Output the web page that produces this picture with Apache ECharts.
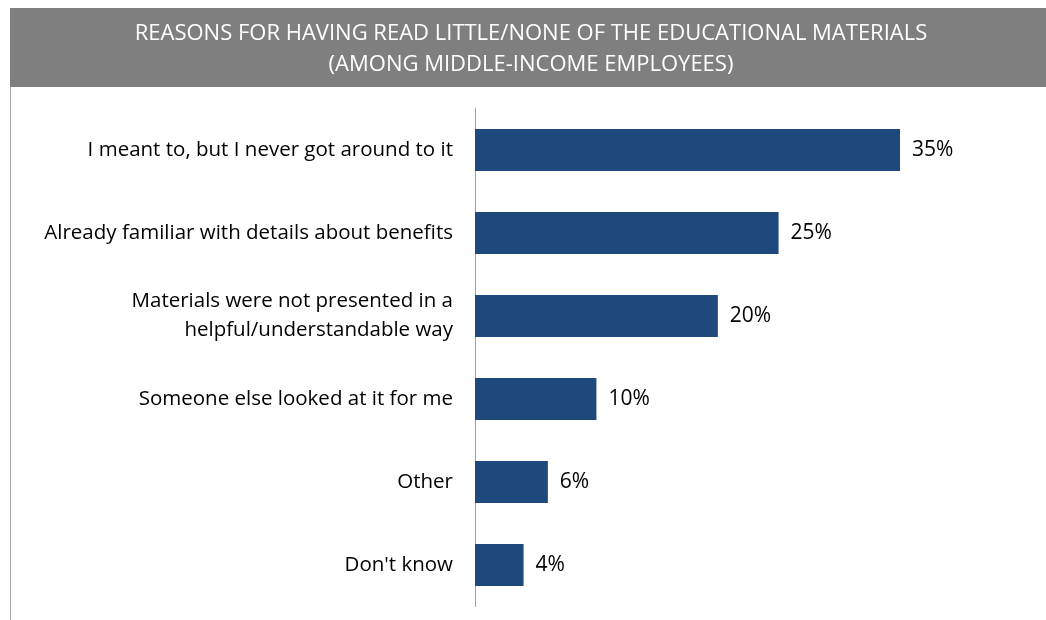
<!DOCTYPE html>
<html>
<head>
<meta charset="utf-8">
<script src="https://cdn.jsdelivr.net/npm/echarts@6/dist/echarts.min.js"></script>
<style>
  html, body { margin: 0; padding: 0; background: #fff; }
  #chart { width: 1046px; height: 620px; }
</style>
</head>
<body>
<div id="chart"></div>
<script>
// survey answers, top to bottom
const reasons = [
  'I meant to, but I never got around to it',
  'Already familiar with details about benefits',
  'Materials were not presented in a\nhelpful/understandable way',
  'Someone else looked at it for me',
  'Other',
  "Don't know"
]
const shares = [35, 25, 20, 10, 6, 4]
const titleLines = [
  'REASONS FOR HAVING READ LITTLE/NONE OF THE EDUCATIONAL MATERIALS',
  '(AMONG MIDDLE-INCOME EMPLOYEES)'
]

const FONT = '"Open Sans", sans-serif'
const chart = echarts.init(document.getElementById('chart'))

const option = {
  animation: false,
  graphic: [
    // grey title banner
    {
      type: 'rect',
      shape: { x: 10, y: 8, width: 1036, height: 79 },
      style: { fill: '#7f7f7f' }
    },
    {
      type: 'text',
      x: 531,
      y: 49.5,
      style: {
        text: titleLines.join('\n'),
        fill: '#fff',
        font: '22px ' + FONT,
        lineHeight: 31,
        align: 'center',
        verticalAlign: 'middle'
      }
    },
    // left frame edge
    {
      type: 'line',
      shape: { x1: 10.5, y1: 87, x2: 10.5, y2: 620 },
      style: { stroke: '#a6a6a6', lineWidth: 1 }
    }
  ],
  grid: {
    left: 475,
    top: 108.5,
    width: 425,
    height: 498
  },
  xAxis: {
    type: 'value',
    min: 0,
    max: 35,
    show: false
  },
  yAxis: {
    type: 'category',
    inverse: true,
    data: reasons,
    axisLine: { lineStyle: { color: '#a0a0a0', width: 1 } },
    axisTick: { show: false },
    axisLabel: {
      color: '#000',
      fontFamily: FONT,
      fontSize: 20.5,
      lineHeight: 29,
      margin: 22,
      align: 'right'
    }
  },
  series: [{
    type: 'bar',
    data: shares,
    barWidth: 42,
    itemStyle: { color: '#1f497d' },
    label: {
      show: true,
      position: 'right',
      distance: 12,
      formatter: '{c}%',
      color: '#000',
      fontFamily: FONT,
      fontSize: 21
    }
  }]
}

chart.setOption(option)
</script>
</body>
</html>
